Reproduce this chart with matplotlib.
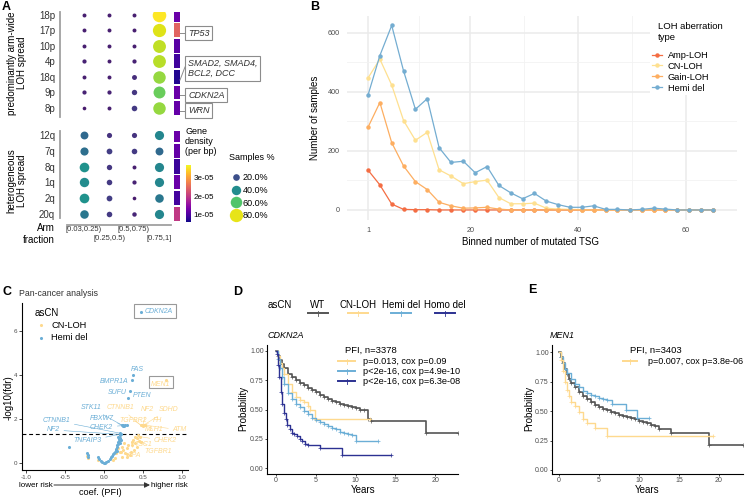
import numpy as np
import matplotlib
matplotlib.use('Agg')
import matplotlib.pyplot as plt
from matplotlib import colors, cm
from matplotlib.lines import Line2D
from matplotlib.patches import Rectangle, FancyArrowPatch

plt.rcParams['font.family'] = ['Liberation Sans', 'DejaVu Sans']
plt.rcParams['axes.unicode_minus'] = False

# ---------------- data ----------------
# A: samples % per arm and arm-fraction bin
arms_top = ['18p', '17p', '10p', '4p', '18q', '9p', '8p']
arms_bot = ['12q', '7q', '8q', '1q', '2q', '20q']
fractions = ['[0.03,0.25)', '[0.25,0.5)', '[0.5,0.75)', '[0.75,1]']
pct_top = [[7, 7, 7, 83], [7, 7, 7, 79], [7, 7, 7, 75], [8, 7, 8, 74],
           [7, 7, 11, 70], [8, 8, 13, 64], [6, 7, 14, 70]]
pct_bot = [[28, 12, 12, 38], [30, 15, 14, 28], [42, 13, 7, 38],
           [40, 14, 8, 38], [42, 15, 6, 33], [33, 14, 9, 38]]
dens_top = [1.2e-5, 2.45e-5, 1.05e-5, 0.88e-5, 0.66e-5, 1.2e-5, 1.15e-5]
dens_bot = [1.2e-5, 1.15e-5, 0.82e-5, 1.2e-5, 0.9e-5, 1.98e-5]
sample_legend = [20, 40, 60, 80]

# B: samples per binned number of mutated TSG
tsg_bins = [1.0, 3.2, 5.4, 7.6, 9.8, 12.0, 14.2, 16.4, 18.7, 20.9, 23.1, 25.3, 27.5,
            29.7, 31.9, 34.1, 36.3, 38.5, 40.7, 42.9, 45.1, 47.3, 49.6, 51.8, 54.0,
            56.2, 58.4, 60.6, 62.8, 65.0]
amp_loh = [135, 85, 20, 2, 1, 1, 0, 0, 0, 0, 0, 0, 0, 0, 0, 0, 0, 0, 0, 0, 0, 0, 0, 0, 0,
           0, 0, 0, 0, 0]
cn_loh = [447, 511, 423, 303, 236, 263, 136, 115, 89, 96, 101, 42, 21, 21, 23, 6, 3, 2, 1, 0,
          0, 0, 0, 0, 0, 0, 0, 0, 0, 0]
gain_loh = [280, 364, 228, 149, 96, 69, 26, 14, 6, 7, 9, 3, 0, 0, 0, 0, 0, 0, 0, 0, 0, 0, 0,
            0, 0, 0, 0, 0, 0, 0]
hemi_del = [389, 523, 625, 471, 341, 377, 211, 161, 165, 126, 147, 83, 58, 38, 56, 30, 18, 9,
            9, 14, 2, 2, 0, 2, 6, 3, 0, 0, 0, 0]

# C: pan-cancer cox coefficient vs -log10(fdr)
cnloh_coef = [0.80, 0.47, 0.49, 0.51, 0.53, 0.50, 0.44, 0.46, 0.40, 0.42, 0.375, 0.355, 0.48,
              0.40, 0.31, 0.42, 0.227, 0.29, 0.18, 0.25, 0.20, 0.27, 0.16, 0.33, 0.29, 0.23,
              0.14, 0.12, -0.20, -0.22, -0.08, 0.38, 0.35, 0.30, 0.45, 0.36, 0.26, 0.22]
cnloh_fdr = [3.78, 1.72, 1.72, 1.72, 1.72, 1.70, 1.27, 1.20, 1.17, 1.12, 1.05, 0.97, 0.97,
             0.90, 0.82, 0.74, 0.74, 0.67, 0.67, 0.59, 0.51, 0.44, 0.44, 0.36, 0.29, 0.29,
             0.21, 0.14, 0.21, 0.30, 0.15, 0.60, 0.50, 0.40, 1.00, 0.80, 0.90, 0.50]
hemi_coef = [0.48, 0.37, 0.36, 0.34, 0.31, 0.23, 0.25, 0.27, 0.29, 0.24, 0.26, 0.21, 0.20,
             0.22, 0.205, 0.20, 0.196, 0.19, 0.183, 0.18, 0.17, 0.165, 0.16, 0.15, 0.14, 0.13,
             0.12, 0.10, 0.09, 0.075, 0.05, 0.03, 0.01, 0.0, -0.02, -0.04, -0.06, -0.07,
             -0.20, -0.21, -0.22, -0.45, 0.22, 0.18, 0.17, 0.21]
hemi_fdr = [6.88, 4.0, 3.75, 3.25, 2.95, 1.72, 1.72, 1.72, 1.72, 1.70, 1.70, 1.35, 1.30,
            1.32, 1.25, 1.15, 1.10, 1.00, 0.95, 0.88, 0.80, 0.72, 0.65, 0.58, 0.50, 0.45,
            0.40, 0.30, 0.25, 0.20, 0.10, 0.05, 0.02, 0.0, 0.03, 0.10, 0.18, 0.25, 0.28,
            0.35, 0.44, 0.72, 1.05, 1.20, 0.55, 0.90]

# D: CDKN2A PFI curves (years, survival probability)
cdkn2a_wt_t = [0, 0.25, 0.5, 0.75, 1, 1.5, 2, 2.5, 3, 3.5, 4, 4.5, 5, 5.5, 6, 6.5, 7, 7.5, 8,
               8.5, 9, 9.5, 10, 10.5, 11, 11.6, 11.9, 18.8, 22.8]
cdkn2a_wt_s = [1, 0.96, 0.92, 0.885, 0.85, 0.80, 0.775, 0.75, 0.73, 0.71, 0.685, 0.665, 0.645,
               0.625, 0.605, 0.59, 0.575, 0.56, 0.55, 0.54, 0.53, 0.52, 0.51, 0.50, 0.495,
               0.42, 0.40, 0.30, 0.30]
cdkn2a_cnloh_t = [0, 0.25, 0.5, 0.75, 1, 1.5, 2, 2.5, 3, 3.5, 4, 4.3, 4.9, 11.8]
cdkn2a_cnloh_s = [1, 0.96, 0.90, 0.85, 0.80, 0.72, 0.65, 0.61, 0.58, 0.56, 0.53, 0.50, 0.42, 0.42]
cdkn2a_hemi_t = [0, 0.25, 0.5, 0.75, 1, 1.5, 2, 2.5, 3, 3.5, 4, 4.5, 5, 5.5, 6, 6.5, 7, 7.5, 8,
                 8.5, 9, 9.5, 10, 12.8]
cdkn2a_hemi_s = [1, 0.93, 0.85, 0.78, 0.72, 0.64, 0.59, 0.55, 0.52, 0.49, 0.46, 0.43, 0.41,
                 0.39, 0.375, 0.36, 0.345, 0.33, 0.31, 0.30, 0.29, 0.28, 0.23, 0.23]
cdkn2a_homo_t = [0, 0.1, 0.25, 0.4, 0.6, 0.8, 1.0, 1.2, 1.4, 1.7, 2, 2.3, 2.7, 3, 3.3, 3.6, 4,
                 5.5, 8.3, 14.5]
cdkn2a_homo_s = [1, 0.97, 0.88, 0.78, 0.65, 0.55, 0.47, 0.42, 0.37, 0.33, 0.30, 0.29, 0.27,
                 0.25, 0.23, 0.21, 0.20, 0.175, 0.115, 0.115]

# E: MEN1 PFI curves
men1_wt_t = [0, 0.25, 0.5, 0.75, 1, 1.25, 1.5, 2, 2.5, 3, 3.5, 4, 4.5, 5, 5.5, 6, 6.5, 7, 7.5,
             8, 8.5, 9, 9.5, 10, 10.5, 11, 11.5, 12, 12.5, 14, 18.8, 23]
men1_wt_s = [1, 0.96, 0.91, 0.86, 0.81, 0.77, 0.74, 0.70, 0.665, 0.63, 0.605, 0.58, 0.555,
             0.535, 0.52, 0.505, 0.49, 0.48, 0.47, 0.46, 0.45, 0.44, 0.43, 0.415, 0.405, 0.395,
             0.385, 0.37, 0.35, 0.31, 0.21, 0.21]
men1_hemi_t = [0, 0.25, 0.5, 0.75, 1, 1.5, 2, 2.5, 3, 3.5, 4, 4.5, 5, 5.5, 6, 6.6, 8.4, 9.7, 11.2]
men1_hemi_s = [1, 0.96, 0.91, 0.86, 0.82, 0.77, 0.73, 0.70, 0.67, 0.655, 0.64, 0.625, 0.61,
               0.60, 0.59, 0.56, 0.51, 0.44, 0.44]
men1_cnloh_t = [0, 0.25, 0.5, 0.75, 1, 1.25, 1.5, 2, 2.5, 3, 3.5, 4.5, 6, 19.2]
men1_cnloh_s = [1, 0.93, 0.84, 0.75, 0.68, 0.63, 0.58, 0.54, 0.49, 0.43, 0.40, 0.355, 0.29, 0.29]

# ---------------- layout helpers ----------------
W, H = 747, 498
fig = plt.figure(figsize=(W / 100, H / 100), dpi=100)


def rect(x0, y0, x1, y1):
    return [x0 / W, 1 - y1 / H, (x1 - x0) / W, (y1 - y0) / H]


def fxy(x, y):
    return x / W, 1 - y / H


def ftext(x, y, s, **kw):
    kw.setdefault('fontsize', 7)
    kw.setdefault('va', 'center')
    fig.text(x / W, 1 - y / H, s, **kw)


def fline(x0, y0, x1, y1, **kw):
    fig.add_artist(Line2D([x0 / W, x1 / W], [1 - y0 / H, 1 - y1 / H], **kw))


c_wt, c_cn, c_hemi, c_homo = '#555555', '#fed98e', '#6baed6', '#2c3192'
c_amp, c_gain = '#f46d43', '#fdae61'
tick_col = '#4d4d4d'

# ---------------- panel A ----------------
pct_norm = colors.Normalize(0, 83)
dens_norm = colors.Normalize(0.56e-5, 3.72e-5)
grey = '#a0a0a0'


def dot_panel(arms, pct, dens, y0, y1, ylim, spine_lo, bottom):
    ax = fig.add_axes(rect(60, y0, 171, y1))
    for i, row in enumerate(pct):
        for j, v in enumerate(row):
            ax.scatter(j, i, s=1.15 * v, color=cm.viridis(pct_norm(v)), lw=0)
    ax.set_xlim(-0.96, 3.48)
    ax.set_ylim(*ylim)
    ax.set_yticks(range(len(arms)), arms)
    ax.tick_params(axis='y', length=0, pad=3.5, labelsize=7, labelcolor='#333333')
    ax.set_xticks([])
    for s in ['top', 'right']:
        ax.spines[s].set_visible(False)
    ax.spines['left'].set_color(grey)
    ax.spines['left'].set_linewidth(1.3)
    ax.spines['left'].set_bounds(ylim[1], spine_lo)
    if bottom:
        ax.spines['bottom'].set_color(grey)
        ax.spines['bottom'].set_linewidth(1.3)
        ax.spines['bottom'].set_bounds(-0.69, 3.48)
        for j, lab in enumerate(fractions):
            ax.annotate(lab, xy=(j, 0), xycoords=('data', 'axes fraction'),
                        xytext=(0, -1 if j % 2 == 0 else -7.5), textcoords='offset points',
                        ha='center', va='top', fontsize=5.5, color='#333333')
    else:
        ax.spines['bottom'].set_visible(False)
    # gene density bar
    axd = fig.add_axes(rect(173.5, y0, 179.5, y1))
    axd.barh(range(len(dens)), 1, height=0.9, color=cm.plasma(dens_norm(np.array(dens))))
    axd.set_ylim(*ylim)
    axd.set_xlim(0, 1)
    axd.axis('off')
    return ax


dot_panel(arms_top, pct_top, dens_top, 12, 117, (6.58, -0.19), 6.58, False)
dot_panel(arms_bot, pct_bot, dens_bot, 131, 225, (5.7, -0.25), 5.25, True)

ftext(6, 7, 'A', fontsize=9, fontweight='bold', ha='center')
ftext(17, 63, 'predominantly arm-wide\nLOH spread', rotation=90, ha='center', linespacing=1.1)
ftext(17, 181, 'heterogeneous\nLOH spread', rotation=90, ha='center', linespacing=1.1)
ftext(55, 234, 'Arm\nfraction', ha='right', linespacing=1.25)

# gene annotations
box = dict(boxstyle='square,pad=0.3', fc='white', ec='#8c8c8c', lw=0.8)
for txt, y, ly in [('TP53', 33, 33), ('SMAD2, SMAD4,\nBCL2, DCC', 68.5, None),
                   ('CDKN2A', 95, 95), ('WRN', 110.5, 111)]:
    ftext(188, y, txt, fontsize=6.5, style='italic', color='#333333', bbox=box,
          linespacing=1.15)
    if ly is not None:
        fline(179.5, ly, 185, ly, color='#8c8c8c', lw=0.7)
fline(180, 80, 185, 67, color='#8c8c8c', lw=0.7)

# gene density colorbar
ftext(185, 127, 'Gene\ndensity\n(per bp)', va='top', fontsize=6.5, linespacing=1.15)
cax = fig.add_axes(rect(186, 165, 191, 222))
cb = fig.colorbar(cm.ScalarMappable(norm=dens_norm, cmap='plasma'), cax=cax,
                  ticks=[1e-5, 2e-5, 3e-5])
cb.ax.set_yticklabels(['1e-05', '2e-05', '3e-05'])
cb.ax.tick_params(length=0, labelsize=5.8, pad=2)
cb.outline.set_visible(False)

# samples % legend
ftext(229, 157, 'Samples %', fontsize=6.5)
handles = [Line2D([], [], ls='none', marker='o', mec='none',
                  ms=np.sqrt(1.15 * v), color=cm.viridis(pct_norm(v))) for v in sample_legend]
fig.legend(handles, ['%.1f%%' % v for v in sample_legend],
           loc='upper left', bbox_to_anchor=fxy(231.5, 173), frameon=False, fontsize=6.5,
           labelspacing=0.42, handlelength=1.0, handleheight=0.7,
           handletextpad=0.2, borderpad=0, borderaxespad=0)

# ---------------- panel B ----------------
axb = fig.add_axes(rect(347, 16, 737, 220))
axb.set_axisbelow(True)
for name, vals, c in [('Amp-LOH', amp_loh, c_amp), ('CN-LOH', cn_loh, '#fee090'),
                      ('Gain-LOH', gain_loh, c_gain), ('Hemi del', hemi_del, '#74add1')]:
    axb.plot(tsg_bins, vals, color=c, lw=0.9, marker='o', ms=2.2, label=name, zorder=3)
axb.set_xlim(-2.9, 69.5)
axb.set_ylim(-34, 657)
axb.set_xticks([1, 20, 40, 60])
axb.set_xticks([10.5, 30, 50], minor=True)
axb.set_yticks([0, 200, 400, 600])
axb.set_yticks([100, 300, 500], minor=True)
axb.grid(which='major', color='#ebebeb', lw=1.1)
axb.grid(which='minor', color='#f2f2f2', lw=0.6)
for s in axb.spines.values():
    s.set_visible(False)
axb.tick_params(which='both', length=0, labelsize=5.2, labelcolor=tick_col, pad=5)
axb.add_patch(Rectangle((0.777, 0.613), 0.223, 0.387, transform=axb.transAxes,
                        fc='white', ec='none', zorder=1))
ftext(658, 22, 'LOH aberration\ntype', va='top', fontsize=6.8, linespacing=1.25)
axb.legend(loc='upper left', bbox_to_anchor=fxy(652, 51), bbox_transform=fig.transFigure,
           frameon=False, fontsize=6.7, labelspacing=0.15, handleheight=1.0,
           handlelength=1.1, handletextpad=0.6, borderpad=0, borderaxespad=0)
ftext(530, 242, 'Binned number of mutated TSG', ha='center')
ftext(315, 118, 'Number of samples', ha='center', rotation=90)
ftext(315, 7, 'B', fontsize=9, fontweight='bold', ha='center')

# ---------------- panel C ----------------
axc = fig.add_axes(rect(22, 303, 188, 470))
axc.scatter(cnloh_coef, cnloh_fdr, s=5, color=c_cn, lw=0, label='CN-LOH', zorder=3)
axc.scatter(hemi_coef, hemi_fdr, s=5, color=c_hemi, lw=0, label='Hemi del', zorder=3)
axc.axhline(-np.log10(0.05), ls='--', color='black', lw=0.8, dashes=(3.5, 2.5))
axc.set_xlim(-1.05, 1.077)
axc.set_ylim(-0.32, 7.27)
axc.set_xticks([-1, -0.5, 0, 0.5, 1], ['-1.0', '-0.5', '0.0', '0.5', '1.0'])
axc.set_yticks([0, 2, 4, 6])
for s in ['top', 'right']:
    axc.spines[s].set_visible(False)
for s in ['left', 'bottom']:
    axc.spines[s].set_linewidth(0.8)
axc.tick_params(length=2, width=0.5, labelsize=4.5, labelcolor=tick_col, pad=1.5)

gene_labels = [
    ('FAS', c_hemi, (0.43, 4.26), None),
    ('BMPR1A', c_hemi, (0.13, 3.72), None),
    ('SUFU', c_hemi, (0.17, 3.2), None),
    ('PTEN', c_hemi, (0.49, 3.05), None),
    ('STK11', c_hemi, (-0.17, 2.51), (0.23, 1.72)),
    ('FBXW7', c_hemi, (-0.03, 2.03), (0.24, 1.72)),
    ('CHEK2', c_hemi, (-0.03, 1.62), (0.25, 1.70)),
    ('CTNNB1', c_hemi, (-0.61, 1.92), (0.21, 1.35)),
    ('NF2', c_hemi, (-0.65, 1.5), (0.20, 1.30)),
    ('TNFAIP3', c_hemi, (-0.21, 1.0), (0.22, 1.32)),
    ('CTNNB1', c_cn, (0.21, 2.51), (0.47, 1.72)),
    ('TGFBR2', c_cn, (0.38, 1.95), (0.48, 1.70)),
    ('NF2', c_cn, (0.55, 2.44), (0.50, 1.72)),
    ('SDHD', c_cn, (0.83, 2.44), (0.51, 1.72)),
    ('FH', c_cn, (0.68, 1.95), (0.52, 1.72)),
    ('MLH1', c_cn, (0.64, 1.5), (0.53, 1.72)),
    ('ATM', c_cn, (0.97, 1.5), (0.53, 1.72)),
    ('TSC1', c_cn, (0.51, 0.85), (0.44, 1.27)),
    ('CHEK2', c_cn, (0.79, 1.0), (0.46, 1.20)),
    ('TGFBR1', c_cn, (0.69, 0.51), (0.42, 1.12)),
    ('XPA', c_cn, (0.38, 0.36), (0.355, 0.97)),
]
for g, c, pos, pt in gene_labels:
    if pt is None:
        axc.text(pos[0], pos[1], g, color=c, fontsize=5, style='italic',
                 ha='center', va='center')
    else:
        axc.annotate(g, xy=pt, xytext=pos, color=c, fontsize=5, style='italic',
                     ha='center', va='center',
                     arrowprops=dict(arrowstyle='-', color=c, lw=0.4, shrinkA=1, shrinkB=0))
axc.text(0.52, 6.88, 'CDKN2A', color=c_hemi, fontsize=5, style='italic', va='center')
axc.add_patch(Rectangle((0.385, 6.6), 0.535, 0.62, fill=False, ec='#999999', lw=0.8))
axc.text(0.72, 3.55, 'MEN1', color=c_cn, fontsize=5, style='italic', ha='center', va='center')
axc.add_patch(Rectangle((0.58, 3.4), 0.30, 0.57, fill=False, ec='#999999', lw=0.8))

axc.legend(title='asCN', loc='upper left', bbox_to_anchor=(0.05, 1.0), frameon=False,
           fontsize=6.7, title_fontsize=7, alignment='left', markerscale=1.0,
           handlelength=1.4, handletextpad=0.35, labelspacing=0.35, borderpad=0)
ftext(7, 292, 'C', fontsize=9, fontweight='bold', ha='center')
ftext(19, 294, 'Pan-cancer analysis', fontsize=6.3, color='#333333')
ftext(9, 398, '-log10(fdr)', rotation=90, ha='center')
ftext(19, 485, 'lower risk', fontsize=5.8)
ftext(188, 485, 'higher risk', fontsize=5.8, ha='right')
fig.add_artist(FancyArrowPatch(
    fxy(54, 485), fxy(150, 485), transform=fig.transFigure, arrowstyle='-|>',
    mutation_scale=8, color='#333333', lw=0.7, shrinkA=0, shrinkB=0))
ftext(100, 492, 'coef. (PFI)', ha='center', fontsize=6.6)


# ---------------- panels D, E ----------------
def km_axes(x0, x1, xlim, ylim):
    ax = fig.add_axes(rect(x0, 345, x1, 474))
    ax.set_xlim(*xlim)
    ax.set_ylim(*ylim)
    ax.set_xticks([0, 5, 10, 15, 20])
    ax.set_yticks([0, 0.25, 0.5, 0.75, 1.0], ['0.00', '0.25', '0.50', '0.75', '1.00'])
    for s in ['top', 'right']:
        ax.spines[s].set_visible(False)
    for s in ['left', 'bottom']:
        ax.spines[s].set_linewidth(0.8)
    ax.tick_params(length=1.5, width=0.5, labelsize=5, labelcolor=tick_col, pad=0.8)
    return ax


def km_curve(ax, t, s, c, lw=1.0):
    ax.step(t, s, where='post', color=c, lw=lw)
    ax.plot(t[1:], s[1:], ls='none', marker='+', ms=3, mew=0.5, color=c)


axd = km_axes(267, 458, (-1.13, 22.86), (-0.05, 1.05))
km_curve(axd, cdkn2a_wt_t, cdkn2a_wt_s, c_wt, lw=1.2)
km_curve(axd, cdkn2a_cnloh_t, cdkn2a_cnloh_s, c_cn)
km_curve(axd, cdkn2a_hemi_t, cdkn2a_hemi_s, c_hemi)
km_curve(axd, cdkn2a_homo_t, cdkn2a_homo_s, c_homo)

axe = km_axes(552, 743, (-0.875, 23.0), (-0.034, 1.06))
km_curve(axe, men1_wt_t, men1_wt_s, c_wt, lw=1.2)
km_curve(axe, men1_hemi_t, men1_hemi_s, c_hemi)
km_curve(axe, men1_cnloh_t, men1_cnloh_s, c_cn)

ftext(238, 292, 'D', fontsize=9, fontweight='bold', ha='center')
ftext(532, 290, 'E', fontsize=9, fontweight='bold', ha='center')
ftext(267, 335, 'CDKN2A', fontsize=6.5, style='italic')
ftext(550, 336, 'MEN1', fontsize=6.5, style='italic')
for xc in [363, 647]:
    ftext(xc, 490, 'Years', ha='center')
for xc in [243, 529]:
    ftext(xc, 408, 'Probability', ha='center', rotation=90)

# top legend of D
ftext(268, 305, 'asCN')
for lab, xc, c in [('WT', 318, c_wt), ('CN-LOH', 358, c_cn), ('Hemi del', 401, c_hemi),
                   ('Homo del', 445, c_homo)]:
    ftext(xc, 305, lab, ha='center')
    fline(xc - 10, 313, xc + 10, 313, color=c, lw=1.4)
    fline(xc, 310.5, xc, 315.5, color=c, lw=0.6)

# inner legends
ftext(345, 350, 'PFI, n=3378', fontsize=6.8)
for y, c, s in [(361, c_cn, 'p=0.013, cox p=0.09'), (371, c_hemi, 'p<2e-16, cox p=4.9e-10'),
                (381, c_homo, 'p<2e-16, cox p=6.3e-08')]:
    fline(338, y, 355, y, color=c, lw=1.4)
    fline(346.5, y - 2.5, 346.5, y + 2.5, color=c, lw=0.6)
    ftext(363, y, s, fontsize=6.6)
ftext(630, 350, 'PFI, n=3403', fontsize=6.8)
fline(623, 361, 637, 361, color=c_cn, lw=1.4)
fline(630, 358.5, 630, 363.5, color=c_cn, lw=0.6)
ftext(648, 361, 'p=0.007, cox p=3.8e-06', fontsize=6.5)

fig.savefig('out.png', dpi=100)
